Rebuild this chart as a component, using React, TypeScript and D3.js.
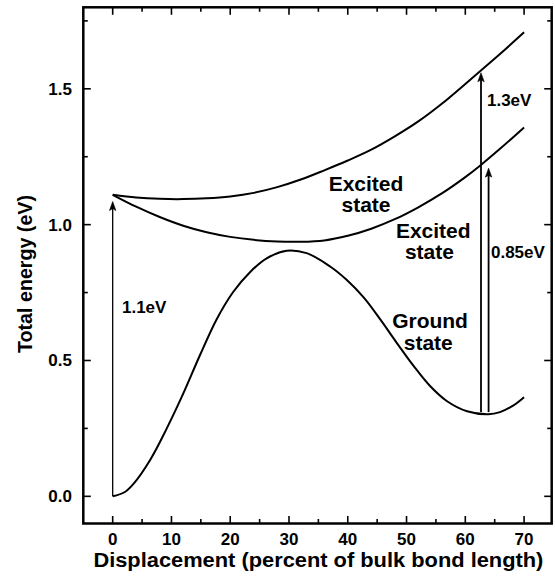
import React from "react";
import * as d3 from "d3";

// ---- data (displacement %, total energy eV) ----
const groundState: [number, number][] = [
  [0, 0.0], [2, 0.015], [3.5, 0.045], [6.4, 0.135], [9.2, 0.25], [12.0, 0.378],
  [14.9, 0.522], [17.7, 0.652], [20.5, 0.752], [23.4, 0.826], [26.2, 0.876],
  [29.6, 0.904], [33.0, 0.895], [37.0, 0.846], [39.8, 0.797], [42.7, 0.732],
  [45.5, 0.652], [48.3, 0.566], [51.2, 0.48], [54.0, 0.406], [56.9, 0.35],
  [60.3, 0.313], [63.9, 0.302], [65.9, 0.31], [68.2, 0.335], [70.0, 0.365],
];
const upperExcited: [number, number][] = [
  [0, 1.11], [4, 1.1], [8, 1.095], [12, 1.094], [16, 1.097], [20, 1.104],
  [24, 1.117], [28, 1.138], [32, 1.166], [36, 1.2], [40, 1.236], [44, 1.276],
  [48, 1.325], [52, 1.38], [56, 1.445], [60, 1.518], [63, 1.574], [66, 1.63],
  [70, 1.708],
];
const lowerExcited: [number, number][] = [
  [0, 1.11], [4, 1.066], [8, 1.028], [12, 0.996], [16, 0.972], [20, 0.955],
  [24, 0.944], [28, 0.938], [32, 0.937], [36, 0.942], [40, 0.959], [44, 0.985],
  [48, 1.02], [52, 1.064], [56, 1.115], [60, 1.175], [62.5, 1.217], [66, 1.281],
  [70, 1.358],
];

// transitions: displacement, start energy, end energy
const arrowX = [0, 62.67, 63.96];
const arrowFrom = [0, 0.31, 0.31];
const arrowTo = [1.085, 1.559, 1.208];
const arrowWidth = [1.3, 1.8, 1.8];

const xMajorTicks = [0, 10, 20, 30, 40, 50, 60, 70];
const xMinorTicks = [5, 15, 25, 35, 45, 55, 65];
const yMajorTicks = [0, 0.5, 1.0, 1.5];
const yMinorTicks = [0.25, 0.75, 1.25, 1.75];

const xLabel = "Displacement (percent of bulk bond length)";
const yLabel = "Total energy (eV)";

// annotation texts anchored in data space
const energyLabels: { text: string; x: number; y: number; anchor: string }[] = [
  { text: "1.1eV", x: 1.58, y: 0.676, anchor: "start" },
  { text: "1.3eV", x: 63.69, y: 1.435, anchor: "start" },
  { text: "0.85eV", x: 64.37, y: 0.878, anchor: "start" },
];
const stateLabels: { text: string; x: number; y: number }[] = [
  { text: "Excited", x: 43.1, y: 1.124 },
  { text: "state", x: 43.1, y: 1.047 },
  { text: "Excited", x: 54.55, y: 0.95 },
  { text: "state", x: 53.9, y: 0.873 },
  { text: "Ground", x: 54.0, y: 0.619 },
  { text: "state", x: 53.7, y: 0.539 },
];

const W = 555;
const H = 577;
const FONT = "'Liberation Sans', Arial, Helvetica, sans-serif";

export default function App() {
  const x = d3.scaleLinear().domain([-5, 74.7]).range([83.3, 551.7]);
  const y = d3.scaleLinear().domain([-0.1, 1.8]).range([523.5, 7.3]);

  const line = d3
    .line<[number, number]>()
    .x((d) => x(d[0]))
    .y((d) => y(d[1]))
    .curve(d3.curveCatmullRom.alpha(0.5));

  const [x0, x1] = x.domain();
  const [y0, y1] = y.domain();
  const left = x(x0), right = x(x1), top = y(y1), bottom = y(y0);
  const fmt = d3.format(".1f");
  const majorLen = 7.5;
  const minorLen = 4.5;

  return (
    <svg
      width={W}
      height={H}
      viewBox={`0 0 ${W} ${H}`}
      style={{ position: "absolute", left: 0, top: 0, display: "block", background: "#fff" }}
    >
      <rect x={0} y={0} width={W} height={H} fill="#fff" />
      {/* curves */}
      <g fill="none" stroke="#000" strokeWidth={2}>
        <path d={line(groundState) || ""} />
        <path d={line(upperExcited) || ""} />
        <path d={line(lowerExcited) || ""} />
      </g>

      {/* arrows */}
      {arrowX.map((ax, i) => {
        const px = x(ax);
        const tip = y(arrowTo[i]);
        return (
          <g key={"a" + i}>
            <line
              x1={px}
              x2={px}
              y1={y(arrowFrom[i])}
              y2={tip + 6}
              stroke="#000"
              strokeWidth={arrowWidth[i]}
            />
            <path
              d={`M${px},${tip} L${px - 3.2},${tip + 9} L${px},${tip + 7} L${px + 3.2},${tip + 9} Z`}
              fill="#000"
              stroke="#000"
              strokeWidth={0.6}
            />
          </g>
        );
      })}

      {/* frame */}
      <rect
        x={left}
        y={top}
        width={right - left}
        height={bottom - top}
        fill="none"
        stroke="#000"
        strokeWidth={2.5}
      />

      {/* ticks (inward on all sides) */}
      <g stroke="#000" strokeWidth={1.6}>
        {xMajorTicks.map((t) => (
          <g key={"xm" + t}>
            <line x1={x(t)} x2={x(t)} y1={bottom} y2={bottom - majorLen} />
            <line x1={x(t)} x2={x(t)} y1={top} y2={top + majorLen} />
          </g>
        ))}
        {xMinorTicks.map((t) => (
          <g key={"xn" + t}>
            <line x1={x(t)} x2={x(t)} y1={bottom} y2={bottom - minorLen} />
            <line x1={x(t)} x2={x(t)} y1={top} y2={top + minorLen} />
          </g>
        ))}
        {yMajorTicks.map((t) => (
          <g key={"ym" + t}>
            <line x1={left} x2={left + majorLen} y1={y(t)} y2={y(t)} />
            <line x1={right} x2={right - majorLen} y1={y(t)} y2={y(t)} />
          </g>
        ))}
        {yMinorTicks.map((t) => (
          <g key={"yn" + t}>
            <line x1={left} x2={left + minorLen} y1={y(t)} y2={y(t)} />
            <line x1={right} x2={right - minorLen} y1={y(t)} y2={y(t)} />
          </g>
        ))}
      </g>

      {/* tick labels */}
      <g fontFamily={FONT} fontWeight="bold" fontSize={17} fill="#000">
        {xMajorTicks.map((t) => (
          <text key={"xl" + t} x={x(t)} y={545} textAnchor="middle">
            {t}
          </text>
        ))}
        {yMajorTicks.map((t) => (
          <text key={"yl" + t} x={72} y={y(t) + 6} textAnchor="end">
            {fmt(t)}
          </text>
        ))}
      </g>

      {/* axis titles */}
      <text
        x={318.4}
        y={566.7}
        textAnchor="middle"
        fontFamily={FONT}
        fontWeight="bold"
        fontSize={20}
        textLength={450}
        lengthAdjust="spacingAndGlyphs"
      >
        {xLabel}
      </text>
      <text
        transform={`translate(31.7, 274) rotate(-90)`}
        textAnchor="middle"
        fontFamily={FONT}
        fontWeight="bold"
        fontSize={20}
        textLength={158}
        lengthAdjust="spacingAndGlyphs"
      >
        {yLabel}
      </text>

      {/* annotations */}
      <g fontFamily={FONT} fontWeight="bold" fill="#000">
        {energyLabels.map((l, i) => (
          <text key={"e" + i} x={x(l.x)} y={y(l.y)} fontSize={17} textAnchor={l.anchor}>
            {l.text}
          </text>
        ))}
        {stateLabels.map((l, i) => (
          <text key={"s" + i} x={x(l.x)} y={y(l.y)} fontSize={21} textAnchor="middle">
            {l.text}
          </text>
        ))}
      </g>
    </svg>
  );
}
